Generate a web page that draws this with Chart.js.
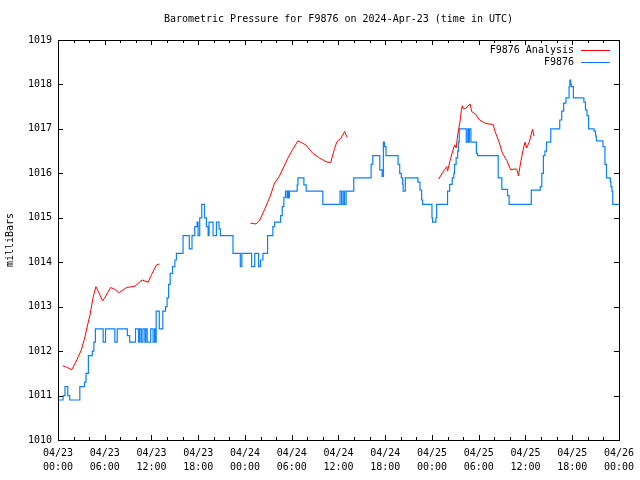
<!DOCTYPE html>
<html>
<head>
<meta charset="utf-8">
<script src="https://cdn.jsdelivr.net/npm/chart.js@4.4.1/dist/chart.umd.min.js"></script>
<style>
  html, body { margin: 0; padding: 0; background: #fff; }
  canvas { display: block; }
</style>
</head>
<body>
<canvas id="pressureChart" width="640" height="480"></canvas>
<script>
// hours since 04/23 00:00 UTC
const xTickLabels = [
  ['04/23', '00:00'], ['04/23', '06:00'], ['04/23', '12:00'], ['04/23', '18:00'],
  ['04/24', '00:00'], ['04/24', '06:00'], ['04/24', '12:00'], ['04/24', '18:00'],
  ['04/25', '00:00'], ['04/25', '06:00'], ['04/25', '12:00'], ['04/25', '18:00'],
  ['04/26', '00:00']
];

// F9876 Analysis (red) - null = no data
const analysisHours = [
  0.6, 1.1, 1.75, 2.2, 2.6, 3.0, 3.46, 3.8, 4.1, 4.52, 4.87, 5.15, 5.72, 6.0, 6.75, 7.3, 7.8, 8.8, 9.86, 10.8, 11.57, 12.0, 12.64, 13.0,
  18.0,
  24.7, 25.4, 25.9, 26.5, 27.2, 27.8, 28.4, 29.5, 30.1, 30.8, 31.8, 32.7, 33.6, 34.4, 35.0, 35.5, 35.8, 36.3, 36.8, 37.1,
  43.0,
  48.85, 49.6, 49.9, 50.0, 50.4, 50.9, 51.1, 51.3, 51.6, 51.8, 51.9, 52.0, 52.3, 52.9, 53.1, 53.6, 54.1, 54.9, 55.85, 56.1, 56.6, 57.05, 57.6, 58.1, 58.75, 58.9, 59.1, 59.4, 59.7, 59.95, 60.15, 60.5, 60.9, 61.1
];
const analysisValues = [
  1011.67, 1011.64, 1011.58, 1011.72, 1011.87, 1012.03, 1012.32, 1012.59, 1012.81, 1013.22, 1013.45, 1013.35, 1013.13, 1013.2, 1013.43, 1013.39, 1013.31, 1013.43, 1013.46, 1013.6, 1013.55, 1013.72, 1013.94, 1013.96,
  null,
  1014.88, 1014.86, 1014.95, 1015.18, 1015.47, 1015.78, 1015.93, 1016.34, 1016.53, 1016.73, 1016.64, 1016.45, 1016.34, 1016.26, 1016.24, 1016.56, 1016.71, 1016.79, 1016.94, 1016.81,
  null,
  1015.87, 1016.08, 1016.15, 1016.05, 1016.34, 1016.64, 1016.57, 1016.86, 1017.16, 1017.46, 1017.52, 1017.45, 1017.46, 1017.56, 1017.39, 1017.33, 1017.2, 1017.12, 1017.1, 1016.94, 1016.71, 1016.45, 1016.29, 1016.08, 1016.1, 1016.09, 1015.94, 1016.26, 1016.53, 1016.7, 1016.57, 1016.71, 1016.99, 1016.84
];

// F9876 station (blue) - each value holds from its hour on
const stationHours = [
  0, 0.65, 0.9, 1.25, 1.5, 2.8, 3.4, 3.6, 3.9, 4.4, 4.6, 4.8, 5.8, 6.1, 7.3, 7.6, 8.9, 9.2, 9.95,
  10.15, 10.35, 10.5, 10.7, 10.9, 11.15, 11.27, 11.45, 11.9, 12.2, 12.4, 12.5,
  12.6, 13.0, 13.45, 13.8, 14.0, 14.2, 14.4, 14.7, 15.0, 15.2, 16.05,
  16.85, 17.2, 17.55, 17.85, 17.98, 18.19, 18.45, 18.8, 19.05, 19.27, 19.39, 19.9, 20.33, 20.67, 20.84, 22.46,
  23.4, 23.6, 24.85, 25.25, 25.75, 26.0, 26.3, 26.9, 27.58, 27.8, 28.57, 28.78, 28.99, 29.2, 29.4, 29.55, 29.6, 29.7,
  30.7, 30.8, 31.56, 31.86, 33.99, 36.2, 36.4, 36.6, 36.77, 36.98, 37.96,
  40.19, 40.4, 41.3, 41.6, 41.76, 41.9, 42.1, 43.65, 43.86, 44.07, 44.24, 44.3, 44.58,
  46.2, 46.46, 46.67, 46.8, 48.0, 48.08, 48.51, 48.6, 50.0,
  50.27, 50.6, 50.8, 50.9, 51.1, 51.3, 51.4, 51.5, 52.4, 52.6, 52.7, 52.8, 53.0, 53.7, 53.85,
  56.5, 56.97, 57.7, 57.9, 60.75,
  61.9, 62.1, 62.3, 62.5, 62.7, 63.25, 64.4, 64.65, 64.9, 65.2, 65.6, 65.7, 65.8, 65.9, 66.15,
  67.5, 67.7, 67.9, 68.1, 68.8, 69.0, 69.1, 69.95, 70.2, 70.4, 70.9, 70.97, 71.1, 71.2, 72
];
const stationValues = [
  1010.9, 1011.0, 1011.2, 1011.0, 1010.9, 1011.2, 1011.3, 1011.5, 1011.9, 1012.0, 1012.2, 1012.5, 1012.2, 1012.5, 1012.2, 1012.5, 1012.35, 1012.2, 1012.5,
  1012.5, 1012.2, 1012.5, 1012.2, 1012.5, 1012.2, 1012.5, 1012.2, 1012.5, 1012.2, 1012.5, 1012.2,
  1012.9, 1012.5, 1012.9, 1013.0, 1013.2, 1013.5, 1013.75, 1013.9, 1014.05, 1014.2, 1014.6,
  1014.3, 1014.6, 1014.8, 1014.9, 1014.6, 1015.0, 1015.3, 1015.0, 1014.8, 1014.6, 1014.9, 1014.6, 1014.9, 1014.75, 1014.6, 1014.2,
  1013.9, 1014.2, 1013.9, 1014.2, 1013.9, 1014.05, 1014.2, 1014.6, 1014.8, 1014.9, 1015.05, 1015.25, 1015.46, 1015.6, 1015.45, 1015.6, 1015.45, 1015.6,
  1015.74, 1015.9, 1015.74, 1015.6, 1015.3, 1015.6, 1015.3, 1015.6, 1015.3, 1015.6, 1015.9,
  1016.2, 1016.4, 1016.08, 1015.93, 1016.7, 1016.6, 1016.4, 1016.2, 1016.0, 1015.9, 1015.75, 1015.6, 1015.9,
  1015.8, 1015.62, 1015.4, 1015.3, 1015.0, 1014.9, 1015.0, 1015.3, 1015.6,
  1015.75, 1015.9, 1016.0, 1016.2, 1016.35, 1016.5, 1016.7, 1017.0, 1016.7, 1017.0, 1016.7, 1017.0, 1016.7, 1016.45, 1016.4,
  1015.9, 1015.64, 1015.5, 1015.3, 1015.62,
  1015.7, 1016.0, 1016.4, 1016.5, 1016.7, 1017.0, 1017.2, 1017.4, 1017.58, 1017.7, 1017.95, 1018.1, 1018.0, 1017.95, 1017.7,
  1017.6, 1017.43, 1017.3, 1017.0, 1016.95, 1016.84, 1016.73, 1016.6, 1016.2, 1015.9, 1015.8, 1015.7, 1015.6, 1015.3, 1015.3
];

const monoFont = "'DejaVu Sans Mono', monospace";

// gnuplot style frame: border box with inward ticks on all sides
const framePlugin = {
  id: 'frame',
  afterDraw(chart) {
    const { ctx, chartArea: a, scales } = chart;
    ctx.save();
    ctx.strokeStyle = '#000';
    ctx.lineWidth = 1;
    ctx.beginPath();
    for (let h = 0; h <= 72; h += 2) {
      const x = Math.round(scales.x.getPixelForValue(h)) + 0.5;
      const len = h % 6 === 0 ? 5 : 3;
      ctx.moveTo(x, a.bottom); ctx.lineTo(x, a.bottom - len);
      ctx.moveTo(x, a.top); ctx.lineTo(x, a.top + len);
    }
    for (let v = 1010; v <= 1019; v++) {
      const y = Math.round(scales.y.getPixelForValue(v)) + 0.5;
      ctx.moveTo(a.left, y); ctx.lineTo(a.left + 5, y);
      ctx.moveTo(a.right, y); ctx.lineTo(a.right - 5, y);
    }
    ctx.stroke();
    ctx.strokeRect(Math.round(a.left) + 0.5, Math.round(a.top) + 0.5,
                   Math.round(a.right - a.left), Math.round(a.bottom - a.top));

    // legend, text left of the line sample
    ctx.font = '10px ' + monoFont;
    ctx.textAlign = 'right';
    ctx.textBaseline = 'middle';
    chart.data.datasets.forEach((ds, i) => {
      const y = 50 + i * 12;
      ctx.fillStyle = '#000';
      ctx.fillText(ds.label, 574, y);
      ctx.strokeStyle = ds.borderColor;
      ctx.lineWidth = 1;
      ctx.beginPath();
      ctx.moveTo(581, y + 0.5); ctx.lineTo(610, y + 0.5);
      ctx.stroke();
    });
    ctx.restore();
  }
};

const ctx = document.getElementById('pressureChart').getContext('2d');
new Chart(ctx, {
  type: 'line',
  data: {
    datasets: [{
      label: 'F9876 Analysis',
      data: analysisHours.map((h, i) => ({ x: h, y: analysisValues[i] })),
      borderColor: '#ff0000',
      borderWidth: 1,
      pointRadius: 0,
      tension: 0,
      spanGaps: false
    }, {
      label: 'F9876',
      data: stationHours.map((h, i) => ({ x: h, y: stationValues[i] })),
      borderColor: '#0a80ff',
      borderWidth: 1.2,
      pointRadius: 0,
      stepped: true
    }]
  },
  options: {
    responsive: false,
    animation: false,
    layout: { padding: { left: 0, right: 20, top: 0, bottom: 0 } },
    plugins: {
      legend: { display: false },
      tooltip: { enabled: false },
      title: {
        display: true,
        fullSize: false,
        text: 'Barometric Pressure for F9876 on 2024-Apr-23 (time in UTC)',
        color: '#000',
        font: { family: monoFont, size: 10, weight: 'normal', lineHeight: 1.2 },
        padding: { top: 13, bottom: 15 }
      }
    },
    scales: {
      x: {
        type: 'linear',
        min: 0,
        max: 72,
        grid: { display: false, drawTicks: false },
        border: { display: false },
        ticks: {
          stepSize: 6,
          autoSkip: false,
          maxRotation: 0,
          padding: 6,
          color: '#000',
          font: { family: monoFont, size: 10, lineHeight: 1.4 },
          callback: v => xTickLabels[v / 6]
        },
        afterFit: s => { s.height = 40; }
      },
      y: {
        min: 1010,
        max: 1019,
        grid: { display: false, drawTicks: false },
        border: { display: false },
        ticks: {
          stepSize: 1,
          padding: 6,
          color: '#000',
          font: { family: monoFont, size: 10 },
          callback: v => String(v)
        },
        title: {
          display: true,
          text: 'milliBars',
          color: '#000',
          font: { family: monoFont, size: 10 },
          padding: { top: 4, bottom: 0 }
        },
        afterFit: s => { s.width = 58; }
      }
    }
  },
  plugins: [framePlugin]
});
</script>
</body>
</html>
